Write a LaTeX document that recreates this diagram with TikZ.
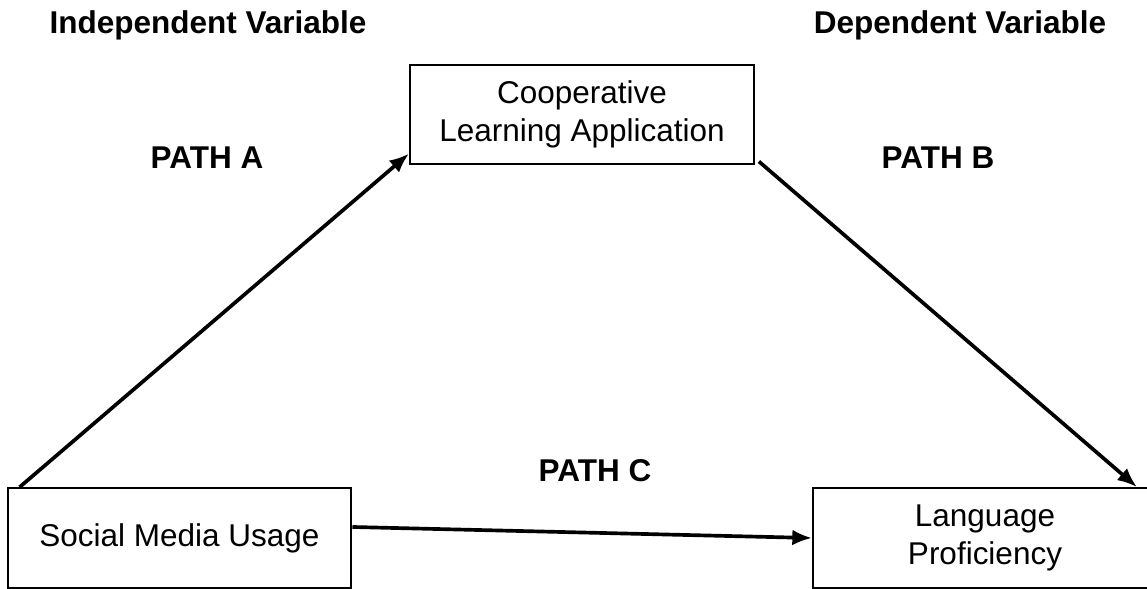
\documentclass[tikz,border=0pt]{standalone}
\usepackage{fontspec}
\setmainfont{Liberation Sans}
\usetikzlibrary{arrows.meta}

\begin{document}
\begin{tikzpicture}[x=0.381pt, y=-0.381pt,
		every node/.style={font=\fontsize{12}{14.4}\selectfont},
		varbox/.style={draw, line width=0.8pt, minimum width=131pt, minimum height=38pt, align=center, inner sep=0pt},
		headlabel/.style={font=\fontsize{12}{14.4}\selectfont\bfseries},
		patharrow/.style={line width=1.4pt, -{Latex[length=7.5pt, width=6pt]}}]
			\useasboundingbox (0, 0) rectangle (1147, 588);
			\draw (208, 25) 	node[headlabel] 	(indep) 	{Independent Variable};
			\draw (960, 25) 	node[headlabel] 	(dep) 		{Dependent Variable};
			\draw (582, 114.5) 	node[varbox] 	(coop) 		{Cooperative\\Learning Application};
			\draw (179.5, 538) 	node[varbox] 	(social) 	{Social Media Usage};
			\draw (985, 538) 	node[varbox] 	(lang) 		{Language\\Proficiency};
			\draw (207, 158) 	node[headlabel] 	(patha) 	{PATH A};
			\draw (938, 158) 	node[headlabel] 	(pathb) 	{PATH B};
			\draw (595, 471) 	node[headlabel] 	(pathc) 	{PATH C};

			\draw[patharrow] ([xshift=5pt]social.north west) -- ([yshift=4.5pt]coop.south west);
			\draw[patharrow] ([xshift=1.5pt, yshift=1.5pt]coop.south east) -- ([xshift=-8pt]lang.north east);
			\draw[patharrow] ([yshift=4.2pt]social.east) -- (lang.west);
		\end{tikzpicture}
\end{document}
